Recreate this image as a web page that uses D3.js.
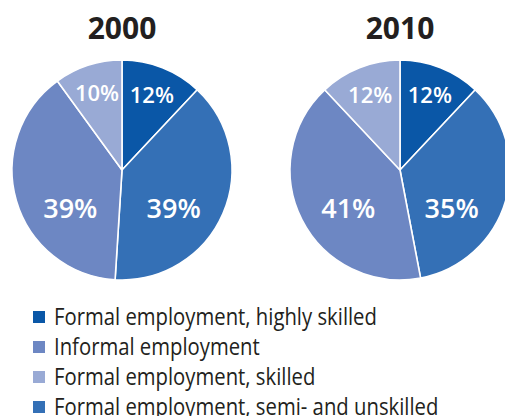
<!DOCTYPE html>
<html>
<head>
<meta charset="utf-8">
<script src="https://cdn.jsdelivr.net/npm/d3@7"></script>
<style>
  html, body { margin: 0; padding: 0; background: #fff; }
  svg { display: block; }
</style>
</head>
<body>
<svg id="chart" width="505" height="416"></svg>
<script>
// Employment structure, shares of total (%)
const years = ["2000", "2010"];
const categories = [
  "Formal employment, highly skilled",
  "Formal employment, semi- and unskilled",
  "Informal employment",
  "Formal employment, skilled"
];
const values2000 = [12, 39, 39, 10];
const values2010 = [12, 35, 41, 12];
const legendOrder = [
  "Formal employment, highly skilled",
  "Informal employment",
  "Formal employment, skilled",
  "Formal employment, semi- and unskilled"
];
const colors = ["#0a57a7", "#3470b6", "#6d87c3", "#99aad5"];

const series = [values2000, values2010];
const svg = d3.select("#chart");
const W = 505;

const R = 110;
const centres = d3.scaleOrdinal().domain(years).range([122, 400]);
const cy = 170;

const color = d3.scaleOrdinal().domain(categories).range(colors);

const pie = d3.pie().sort(null).value(d => d.value);
const arc = d3.arc().innerRadius(0).outerRadius(R);
const smallArc = d3.arc().innerRadius(81).outerRadius(81);

years.forEach((yr, i) => {
  const data = categories.map((c, j) => ({ cat: c, value: series[i][j] }));
  const g = svg.append("g").attr("transform", `translate(${centres(yr)},${cy})`);

  g.append("text")
    .attr("x", 0).attr("y", -131)
    .attr("text-anchor", "middle")
    .attr("font-family", "'Open Sans', sans-serif")
    .attr("font-weight", 700)
    .attr("font-size", 30)
    .attr("fill", "#231f20")
    .text(yr);

  const arcs = pie(data);
  g.selectAll("path.slice").data(arcs).join("path")
    .attr("class", "slice")
    .attr("d", arc)
    .attr("fill", d => color(d.data.cat))
    .attr("stroke", "#fff")
    .attr("stroke-width", 1.6)
    .attr("stroke-linejoin", "round");

  g.selectAll("text.lab").data(arcs).join("text")
    .attr("class", "lab")
    .attr("text-anchor", "middle")
    .attr("font-family", "'Open Sans', sans-serif")
    .attr("font-weight", 600)
    .attr("fill", "#fff")
    .each(function (d) {
      const small = d.data.value < 20;
      let x, y;
      if (small) {
        [x, y] = smallArc.centroid(d);
        y += 8;
      } else {
        const mid = (d.startAngle + d.endAngle) / 2;
        x = Math.sign(Math.sin(mid)) * 0.47 * R;
        y = 0.44 * R;
      }
      d3.select(this)
        .attr("x", x).attr("y", y)
        .attr("font-size", small ? 22 : 27)
        .text(d.data.value + "%");
    });
});

// Legend
const legend = svg.append("g").attr("transform", "translate(33,311)");
const rows = legend.selectAll("g").data(legendOrder).join("g")
  .attr("transform", (d, i) => `translate(0,${i * 30})`);
rows.append("rect")
  .attr("width", 12).attr("height", 12)
  .attr("fill", d => color(d));
const labels = rows.append("text")
  .attr("x", 0).attr("y", 14)
  .attr("font-family", "'Open Sans', sans-serif")
  .attr("font-size", 24)
  .attr("fill", "#231f20")
  .text(d => d);
// condensed lettering: squeeze the legend text horizontally
const w0 = labels.nodes()[0].getComputedTextLength();
const sx = 323 / w0;
labels.attr("transform", `translate(21,0) scale(${sx},1)`);
</script>
</body>
</html>
